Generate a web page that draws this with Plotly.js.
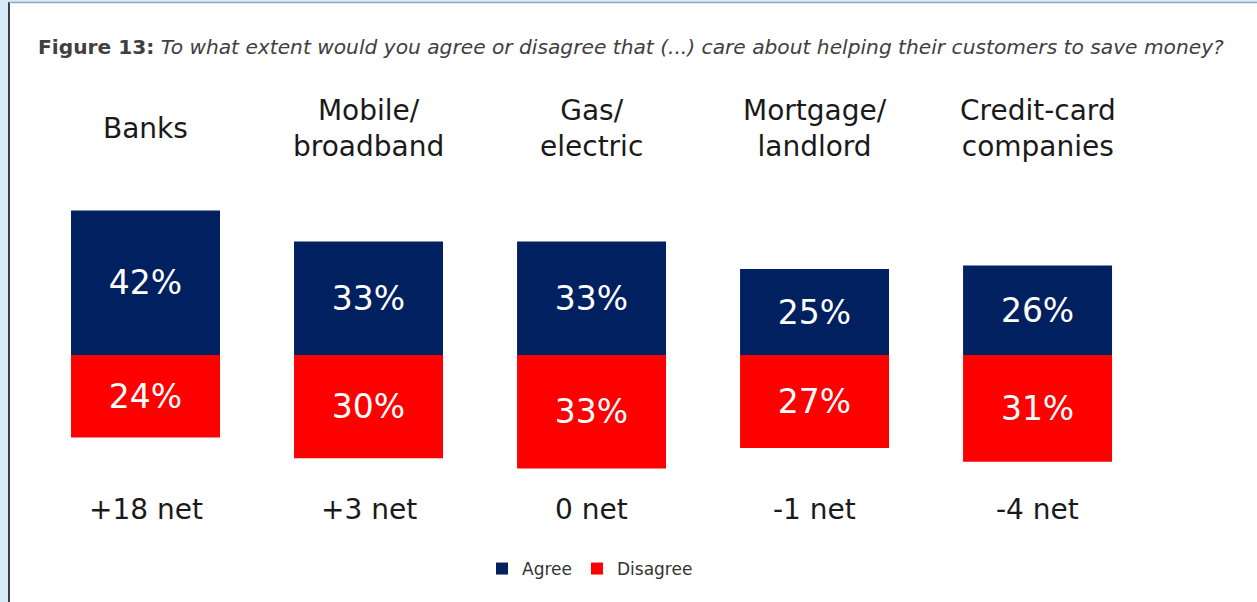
<!DOCTYPE html>
<html>
<head>
<meta charset="utf-8">
<script src="https://cdn.plot.ly/plotly-3.0.1.min.js"></script>
<style>
  html, body { margin: 0; padding: 0; background: #ffffff; }
  #chart { width: 1257px; height: 602px; }
</style>
</head>
<body>
<div id="chart"></div>
<script>
// chart values
const categories = ['Banks', 'Mobile/<br>broadband', 'Gas/<br>electric', 'Mortgage/<br>landlord', 'Credit-card<br>companies'];
const agreeValues = [42, 33, 33, 25, 26];
const disagreeValues = [24, 30, 33, 27, 31];
const netLabels = ['+18 net', '+3 net', '0 net', '-1 net', '-4 net'];

const NAVY = '#002060';
const RED = '#ff0000';
const FONT = 'DejaVu Sans, sans-serif';

// agree above the baseline, disagree below it
const agreeTrace = {
    type: 'bar',
    name: 'Agree',
    x: categories,
    y: agreeValues,
    width: 0.668,
    marker: { color: NAVY },
    text: agreeValues.map(v => v + '%'),
    textposition: 'inside',
    insidetextanchor: 'middle',
    textfont: { family: FONT, size: 33, color: '#ffffff' },
    hoverinfo: 'none'
};

const disagreeTrace = {
    type: 'bar',
    name: 'Disagree',
    x: categories,
    y: disagreeValues.map(v => -v),
    width: 0.668,
    marker: { color: RED },
    text: disagreeValues.map(v => v + '%'),
    textposition: 'inside',
    insidetextanchor: 'middle',
    textfont: { family: FONT, size: 33, color: '#ffffff' },
    hoverinfo: 'none'
};

// category names above the bars, net scores below
const annotations = [];
categories.forEach((cat, i) => {
    annotations.push({
        x: cat, y: 65.8, xref: 'x', yref: 'y',
        text: cat, showarrow: false,
        yanchor: 'middle',
        font: { family: FONT, size: 28, color: '#1a1a1a' }
    });
    annotations.push({
        x: cat, y: -45, xref: 'x', yref: 'y',
        text: netLabels[i], showarrow: false,
        yanchor: 'middle',
        font: { family: FONT, size: 28, color: '#1a1a1a' }
    });
});

// page frame: light blue strip on the left and top with a thin border line
const shapes = [
    { type: 'rect', xref: 'paper', yref: 'paper', x0: 0, x1: 8 / 1257, y0: 0, y1: 1,
      fillcolor: '#d6eaf8', line: { width: 0 }, layer: 'below' },
    { type: 'rect', xref: 'paper', yref: 'paper', x0: 0, x1: 1, y0: 1 - 2 / 602, y1: 1,
      fillcolor: '#d6eaf8', line: { width: 0 }, layer: 'below' },
    { type: 'line', xref: 'paper', yref: 'paper', x0: 9 / 1257, x1: 9 / 1257, y0: 0, y1: 1 - 2 / 602,
      line: { color: '#3b4045', width: 2 } },
    { type: 'line', xref: 'paper', yref: 'paper', x0: 9 / 1257, x1: 1, y0: 1 - 2.5 / 602, y1: 1 - 2.5 / 602,
      line: { color: '#8fa5b8', width: 1.5 } }
];

const layout = {
    width: 1257,
    height: 602,
    margin: { l: 0, r: 0, t: 0, b: 0 },
    paper_bgcolor: '#ffffff',
    plot_bgcolor: '#ffffff',
    barmode: 'relative',
    showlegend: true,
    title: {
        text: '<b>Figure 13:</b> <i>To what extent would you agree or disagree that (...) care about helping their customers to save money?</i>',
        x: 38 / 1257, xanchor: 'left',
        y: 1 - 47 / 602, yanchor: 'middle',
        font: { family: FONT, size: 20.2, color: '#404040' }
    },
    xaxis: {
        range: [-0.6525, 4.984],
        showticklabels: false, showgrid: false, zeroline: false, showline: false, ticks: ''
    },
    yaxis: {
        range: [-71.8, 103.2],
        showticklabels: false, showgrid: false, zeroline: false, showline: false, ticks: ''
    },
    legend: {
        orientation: 'h',
        x: 590 / 1257, xanchor: 'center',
        y: 33 / 602, yanchor: 'middle',
        font: { family: FONT, size: 17, color: '#333333' },
        itemwidth: 30,
        bgcolor: 'rgba(0,0,0,0)'
    },
    annotations: annotations,
    shapes: shapes
};

Plotly.newPlot('chart', [agreeTrace, disagreeTrace], layout, { displayModeBar: false, staticPlot: true });
</script>
</body>
</html>
